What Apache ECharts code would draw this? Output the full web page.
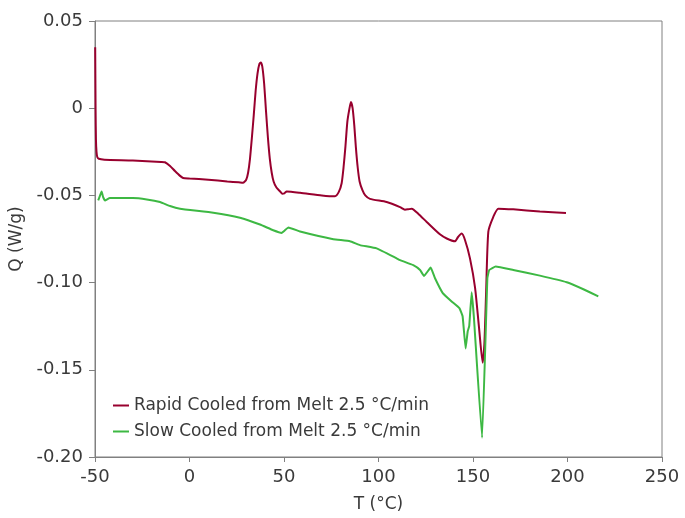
<!DOCTYPE html>
<html><head><meta charset="utf-8">
<script src="https://cdn.jsdelivr.net/npm/echarts@6/dist/echarts.min.js"></script>
<style>html,body{margin:0;padding:0;background:#fff}#c{width:685px;height:518px}</style>
</head><body><div id="c"></div>
<script>
const seriesNames = ['Rapid Cooled from Melt 2.5 °C/min', 'Slow Cooled from Melt 2.5 °C/min'];
const rapidT = [-49.9,-49.7,-49.5,-49.2,-48.8,-48,-45,-30,-15,-13,-10.3,-7.7,-5,-3.4,0,10,20,26,28.3,30,31,32,33,34,35,36,37,37.7,38.5,39.5,40.5,41.5,42.5,43.5,44.5,46,48,49.1,50.2,51.4,58.5,70,77,79,80.5,81.5,82.5,83.5,84.5,85.4,86.3,87.2,88,89,90,91.5,93,95.5,104.3,111.4,114,115.5,117.6,121,125.5,132.5,136.1,140.5,142,144,145.8,148.4,151.1,153.2,155.1,156,156.9,158.1,160.7,163.4,171.3,185.4,199.2];
const rapidQ = [0.035,0.0,-0.018,-0.025,-0.028,-0.029,-0.0295,-0.030,-0.0308,-0.031,-0.0331,-0.036,-0.0388,-0.040,-0.0403,-0.041,-0.042,-0.0425,-0.0428,-0.041,-0.037,-0.029,-0.017,-0.004,0.010,0.020,0.0255,0.0262,0.024,0.014,-0.002,-0.017,-0.029,-0.037,-0.042,-0.0455,-0.0478,-0.049,-0.0488,-0.0478,-0.0485,-0.0500,-0.0505,-0.048,-0.043,-0.034,-0.022,-0.008,-0.001,0.0035,0.000,-0.010,-0.022,-0.034,-0.042,-0.047,-0.050,-0.052,-0.0538,-0.0567,-0.0582,-0.058,-0.0576,-0.0605,-0.0652,-0.0723,-0.0747,-0.0763,-0.074,-0.0719,-0.0757,-0.0861,-0.103,-0.126,-0.1459,-0.1355,-0.107,-0.0709,-0.0624,-0.0576,-0.058,-0.0592,-0.0601];
const slowT = [-48.3,-47.3,-46.5,-45.7,-44.7,-42.1,-30,-22.6,-15.6,-10.3,-5.0,12.6,26.7,37.3,44.3,48.8,50.5,52.3,58.5,76.1,84.9,90.2,99,109.6,111.4,118.4,122,124.1,127.6,129.9,134,138.7,142.8,144.5,146.1,147.2,148,149.3,150.5,154.8,157.6,158.6,162,171.3,185.4,199.6,208.4,216.3];
const slowQ = [-0.0529,-0.050,-0.0478,-0.051,-0.0529,-0.0515,-0.0515,-0.0523,-0.0538,-0.0561,-0.0576,-0.0599,-0.0628,-0.0667,-0.070,-0.0715,-0.070,-0.0684,-0.0707,-0.0751,-0.0763,-0.0785,-0.0804,-0.0861,-0.0871,-0.09,-0.0928,-0.0962,-0.0914,-0.0975,-0.106,-0.1108,-0.1146,-0.1193,-0.1378,-0.1279,-0.125,-0.1056,-0.1203,-0.189,-0.0975,-0.0928,-0.0908,-0.0928,-0.096,-0.0998,-0.1038,-0.1079];
const xTicks = [-50, 0, 50, 100, 150, 200, 250];
const yTicks = [0.05, 0, -0.05, -0.10, -0.15, -0.20];

const zip = (a, b) => a.map((v, i) => [v, b[i]]);
const font = '"DejaVu Sans", sans-serif';
const txt = '#3a3a3a';
const chart = echarts.init(document.getElementById('c'), null, {renderer: 'canvas'});
chart.setOption({
  animation: false,
  backgroundColor: '#fff',
  grid: {left: 95, top: 21, right: 23, bottom: 58, show: true, borderColor: '#808080', borderWidth: 1},
  legend: {
    orient: 'vertical', left: 108, top: 392, itemWidth: 16, itemHeight: 2, itemGap: 9,
    icon: 'rect',
    textStyle: {fontFamily: font, fontSize: 17, color: txt},
    data: seriesNames
  },
  xAxis: {
    type: 'value', min: xTicks[0], max: xTicks[xTicks.length - 1], interval: 50,
    name: 'T (°C)', nameLocation: 'middle', nameGap: 39,
    nameTextStyle: {fontFamily: font, fontSize: 17, color: txt},
    axisLine: {show: true, onZero: false, lineStyle: {color: '#808080'}},
    axisTick: {show: true, length: 5, lineStyle: {color: '#808080'}},
    axisLabel: {fontFamily: font, fontSize: 18, color: txt, margin: 11},
    splitLine: {show: false}
  },
  yAxis: {
    type: 'value', min: yTicks[yTicks.length - 1], max: yTicks[0], interval: 0.05,
    name: 'Q (W/g)', nameLocation: 'middle', nameGap: 70, nameRotate: 90,
    nameTextStyle: {fontFamily: font, fontSize: 17, color: txt},
    axisLine: {show: true, onZero: false, lineStyle: {color: '#808080'}},
    axisTick: {show: true, length: 6, lineStyle: {color: '#808080'}},
    axisLabel: {fontFamily: font, fontSize: 18, color: txt, margin: 12,
      formatter: v => Math.abs(v) < 1e-9 ? '0' : v.toFixed(2)},
    splitLine: {show: false}
  },
  series: [
    {name: seriesNames[0], type: 'line', data: zip(rapidT, rapidQ), showSymbol: false, smooth: 0.2,
     lineStyle: {color: '#98002e', width: 2}, itemStyle: {color: '#98002e'}},
    {name: seriesNames[1], type: 'line', data: zip(slowT, slowQ), showSymbol: false, smooth: 0.1,
     lineStyle: {color: '#3db843', width: 2}, itemStyle: {color: '#3db843'}}
  ]
});
</script></body></html>
